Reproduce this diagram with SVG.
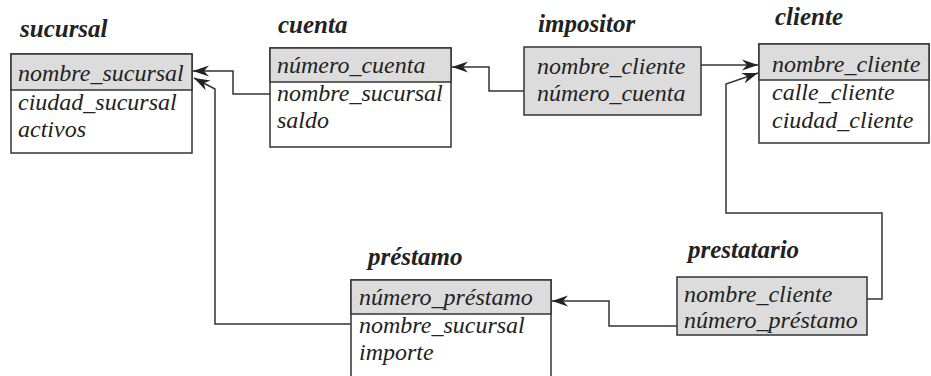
<svg xmlns="http://www.w3.org/2000/svg" width="931" height="376" viewBox="0 0 931 376">
<style>
.box{fill:#fff;stroke:#333;stroke-width:1.5}
.hdr{fill:#dcdcdc;stroke:#333;stroke-width:1.5}
.t{font-family:"Liberation Serif","Times New Roman",serif;font-style:italic;font-size:24px;fill:#222}
.ttl{font-family:"Liberation Serif","Times New Roman",serif;font-style:italic;font-weight:bold;font-size:25px;fill:#222}
.c{fill:none;stroke:#333;stroke-width:1.5}
</style>
<defs>
<marker id="ar" markerUnits="userSpaceOnUse" markerWidth="18" markerHeight="12" refX="16" refY="6" orient="auto">
<path d="M0,0.5 L16,6 L0,11.5 L5,6 z" fill="#222"/>
</marker>
</defs>
<rect width="931" height="376" fill="#fff"/>
<g id="sucursal">
<text class="ttl" x="20" y="37">sucursal</text>
<rect class="box" x="11" y="54" width="181" height="99"/>
<rect class="hdr" x="11" y="54" width="181" height="36"/>
<text class="t" x="18" y="81">nombre_sucursal</text>
<text class="t" x="18" y="110">ciudad_sucursal</text>
<text class="t" x="18" y="137">activos</text>
</g>
<g id="cuenta">
<text class="ttl" x="278" y="33">cuenta</text>
<rect class="box" x="270" y="48" width="181" height="99"/>
<rect class="hdr" x="270" y="48" width="181" height="34"/>
<text class="t" x="277" y="73">número_cuenta</text>
<text class="t" x="277" y="101">nombre_sucursal</text>
<text class="t" x="277" y="128">saldo</text>
</g>
<g id="impositor">
<text class="ttl" x="538" y="32">impositor</text>
<rect class="hdr" x="524" y="47" width="177" height="68"/>
<text class="t" x="537" y="74">nombre_cliente</text>
<text class="t" x="537" y="101">número_cuenta</text>
</g>
<g id="cliente">
<text class="ttl" x="775" y="25">cliente</text>
<rect class="box" x="759" y="44" width="170" height="99"/>
<rect class="hdr" x="759" y="44" width="170" height="36"/>
<text class="t" x="772" y="72">nombre_cliente</text>
<text class="t" x="772" y="100">calle_cliente</text>
<text class="t" x="772" y="128">ciudad_cliente</text>
</g>
<g id="prestamo">
<text class="ttl" x="368" y="265">préstamo</text>
<rect class="box" x="351" y="280" width="200" height="110"/>
<rect class="hdr" x="351" y="280" width="200" height="34"/>
<text class="t" x="359" y="305">número_préstamo</text>
<text class="t" x="359" y="333">nombre_sucursal</text>
<text class="t" x="359" y="360">importe</text>
</g>
<g id="prestatario">
<text class="ttl" x="688" y="258">prestatario</text>
<rect class="hdr" x="677" y="277" width="190" height="58"/>
<text class="t" x="684" y="302">nombre_cliente</text>
<text class="t" x="684" y="328">número_préstamo</text>
</g>
<g id="connectors">
<path class="c" d="M270,94 H233 V71 H193" marker-end="url(#ar)"/>
<path class="c" d="M351,324 H215 V89 L194,78" marker-end="url(#ar)"/>
<path class="c" d="M524,91 H489 V67 H452" marker-end="url(#ar)"/>
<path class="c" d="M701,65 H758" marker-end="url(#ar)"/>
<path class="c" d="M867,299 H882 V213 H726 V84 L758,73" marker-end="url(#ar)"/>
<path class="c" d="M677,326 H609 V301 H552" marker-end="url(#ar)"/>
</g>
</svg>
